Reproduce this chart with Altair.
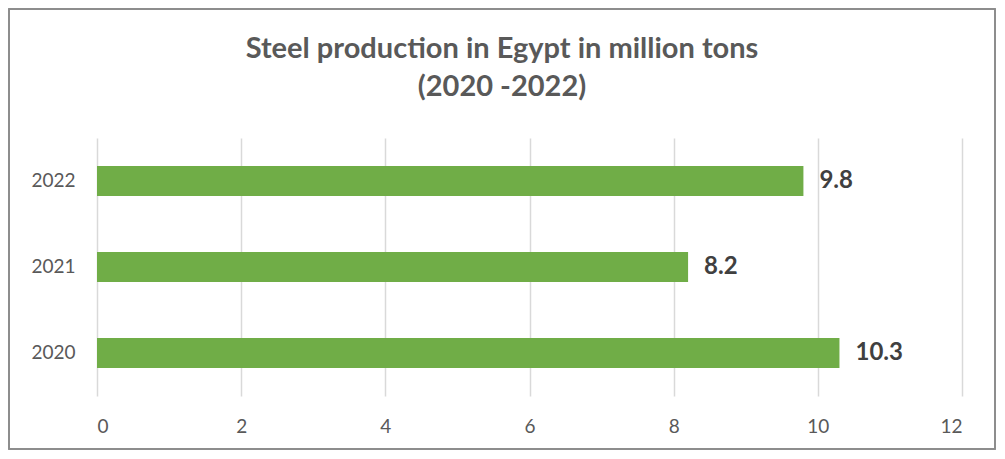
import altair as alt
import pandas as pd

years = ["2022", "2021", "2020"]
production = [9.8, 8.2, 10.3]
x_ticks = [0, 2, 4, 6, 8, 10, 12]
title_lines = ["Steel production in Egypt in million tons", "(2020 -2022)"]

df = pd.DataFrame({"year": years, "value": production})

FONT = "Lato"
W, H = 865, 258
PAD_L, PAD_T, PAD_R, PAD_B = 89, 130, 35, 55

y_enc = alt.Y("year:N", sort=years, title=None,
              scale=alt.Scale(paddingInner=0.65, paddingOuter=0.325),
              axis=alt.Axis(domain=False, ticks=False, labelPadding=22,
                            labelFontSize=19, labelColor="#595959", labelFont=FONT, grid=False))
x_enc = alt.X("value:Q", title=None,
              scale=alt.Scale(domain=[0, 12], nice=False),
              axis=alt.Axis(values=x_ticks, format="d", domain=False, ticks=False, labelPadding=21,
                            labelFontSize=19, labelColor="#595959", labelFont=FONT,
                            grid=True, gridColor="#d9d9d9", gridWidth=1.5))

bars = alt.Chart(df).mark_bar(color="#70AD47").encode(x=x_enc, y=y_enc)

labels = alt.Chart(df).mark_text(align="left", baseline="middle", dx=16, fontSize=24,
                                  fontWeight="bold", color="#404040", font=FONT).encode(
    x="value:Q", y=alt.Y("year:N", sort=years), text=alt.Text("value:Q", format=".1f"))

border = alt.Chart(df).mark_rect(fill=None, stroke="#8c8c8c", strokeWidth=1.5).encode(
    x=alt.value(-PAD_L + 1), x2=alt.value(W + PAD_R - 2),
    y=alt.value(-PAD_T + 1), y2=alt.value(H + PAD_B - 2))

title_df = pd.DataFrame({"line": ["\n".join(title_lines)]})
title = alt.Chart(title_df).mark_text(align="center", baseline="middle", fontSize=29,
                                       fontWeight="bold", color="#595959", font=FONT,
                                       lineBreak="\n", lineHeight=38).encode(
    text="line:N",
    x=alt.value(405),
    y=alt.value(-89),
)

chart = alt.layer(bars, labels, border, title).properties(
    width=W, height=H,
    autosize=alt.AutoSizeParams(type="none"),
    padding={"left": PAD_L, "top": PAD_T, "right": PAD_R, "bottom": PAD_B},
).configure_view(stroke=None)

chart.save("out.html", embed_options={"renderer": "svg", "actions": False})
